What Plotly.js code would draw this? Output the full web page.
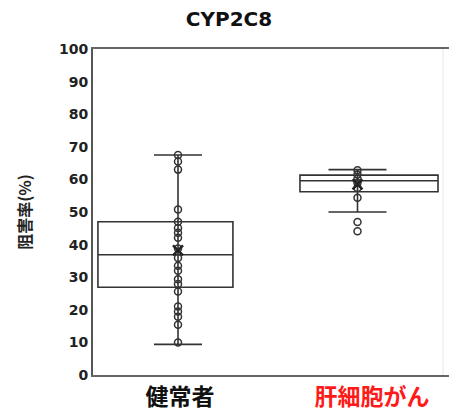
<!DOCTYPE html>
<html>
<head>
<meta charset="utf-8">
<script src="https://cdn.plot.ly/plotly-3.0.1.min.js"></script>
<style>html,body{margin:0;padding:0;background:#fff;}#chart{width:450px;height:412px;}</style>
</head>
<body>
<div id="chart"></div>
<script>
// Categories and label positions
const categories = ['健常者', '肝細胞がん'];
const labelPos = [0.011, 1.081];
const pointPos = [0, 1];
const boxPos = [-0.070, 1.064];
const boxWidth = [0.752, 0.769];

// Individual values (inhibition %)
const healthyValues = [67.5, 65.5, 63.0, 50.8, 47.0, 45.1, 43.6, 42.1, 38.8, 35.9, 33.5, 32.0, 29.4, 27.9, 25.6, 21.0, 19.5, 17.9, 15.4, 10.0];
const hccValues = [62.8, 61.5, 60.2, 59.0, 57.4, 54.4, 46.9, 44.1];

// Box statistics
const q1 = [26.9, 56.2];
const median = [36.9, 59.6];
const q3 = [47.0, 61.3];
const lowerWhisker = [9.4, 50.0];
const upperWhisker = [67.5, 63.0];
const means = [38.2, 58.5];
const capHalfWidth = [24, 29];

const boxColor = '#333333';
const traces = [];

for (let i = 0; i < 2; i++) {
  traces.push({
    type: 'box', x: [boxPos[i]], q1: [q1[i]], median: [median[i]], q3: [q3[i]],
    lowerfence: [q1[i]], upperfence: [q3[i]], width: boxWidth[i], whiskerwidth: 0,
    boxpoints: false, fillcolor: 'rgba(255,255,255,0)',
    line: {color: boxColor, width: 1.6}, showlegend: false, hoverinfo: 'skip'
  });
}
for (let i = 0; i < 2; i++) {
  traces.push({
    type: 'scatter', mode: 'markers', x: [pointPos[i]], y: [median[i]],
    marker: {size: 1, color: 'rgba(0,0,0,0)'},
    error_y: {type: 'data', symmetric: false, array: [upperWhisker[i] - median[i]],
              arrayminus: [median[i] - lowerWhisker[i]], width: capHalfWidth[i],
              color: boxColor, thickness: 1.6},
    showlegend: false, hoverinfo: 'skip'
  });
}
const groups = [healthyValues, hccValues];
for (let i = 0; i < 2; i++) {
  traces.push({
    type: 'scatter', mode: 'markers', x: groups[i].map(() => pointPos[i]), y: groups[i],
    marker: {symbol: 'circle-open', size: 7, color: '#333', line: {width: 1.5, color: '#333'}},
    showlegend: false, hoverinfo: 'skip'
  });
}
traces.push({
  type: 'scatter', mode: 'markers', x: pointPos, y: means,
  marker: {symbol: 'x-thin-open', size: 10, color: '#222', line: {width: 2.5, color: '#222'}},
  showlegend: false, hoverinfo: 'skip'
});

const layout = {
  width: 450, height: 412,
  margin: {l: 93, r: 1, t: 49, b: 37},
  paper_bgcolor: '#fff', plot_bgcolor: '#fff',
  title: {text: '<b>CYP2C8</b>', x: 0.382, xref: 'paper', xanchor: 'center', y: 0.955, yanchor: 'middle',
          font: {family: 'DejaVu Sans', size: 20, color: '#111'}},
  xaxis: {
    range: [-0.4735, 1.5097], showgrid: false, zeroline: false,
    showline: true, linecolor: '#666', linewidth: 2, mirror: true,
    tickvals: labelPos,
    ticktext: ['<b>' + categories[0] + '</b>', '<span style="color:#ff1a1a"><b>' + categories[1] + '</b></span>'],
    tickfont: {family: 'Noto Sans CJK JP', size: 23, color: '#111'},
    ticks: '', ticklabelstandoff: 0
  },
  yaxis: {
    range: [0, 100], dtick: 10, showgrid: false, zeroline: false,
    showline: true, linecolor: '#555', linewidth: 2, ticks: '',
    tickfont: {family: 'DejaVu Sans', size: 14, color: '#222', weight: 'bold'},
    title: {text: '阻害率(%)', standoff: 23, font: {family: 'Noto Sans CJK JP', size: 16, color: '#222', weight: 'bold'}}
  },
  shapes: [{type: 'line', xref: 'paper', yref: 'paper', x0: 0.983, x1: 0.983, y0: 0, y1: 1,
            line: {color: '#e8e8e8', width: 1}}]
};

Plotly.newPlot('chart', traces, layout, {displayModeBar: false, staticPlot: true});
</script>
</body>
</html>
